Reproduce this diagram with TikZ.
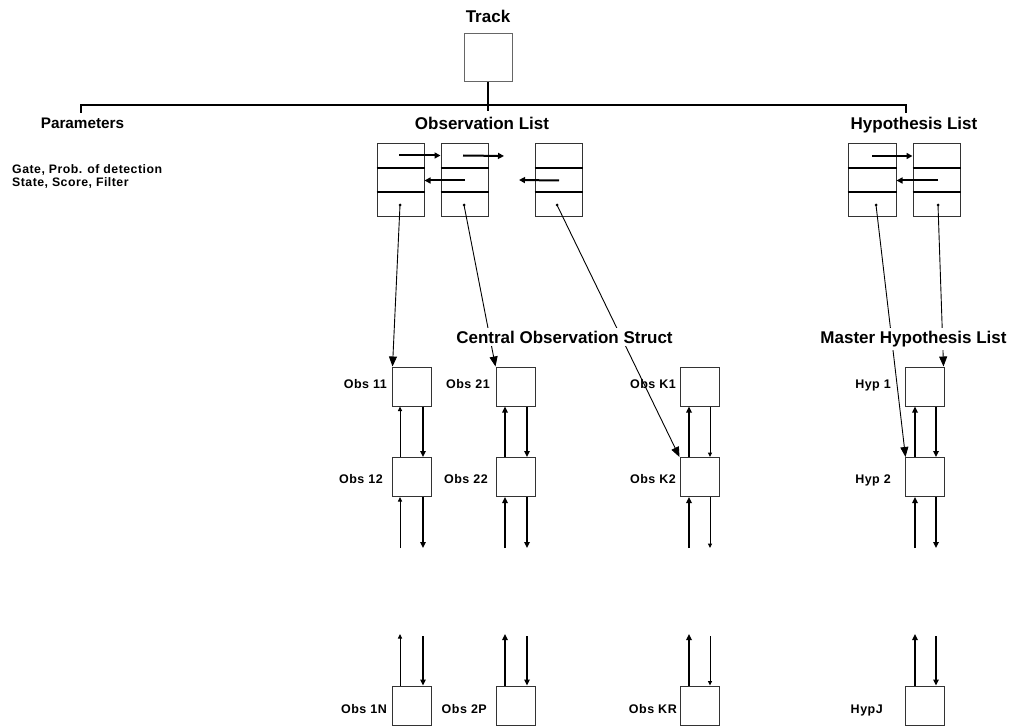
\documentclass[tikz,border=0pt]{standalone}
\usepackage{fontspec}
\setmainfont{Liberation Sans}
\newfontfamily\spaced[LetterSpace=4]{Liberation Sans}
\usetikzlibrary{arrows.meta,calc}

\begin{document}
\begin{tikzpicture}[x=1pt,y=-1pt,
  big/.style={font=\fontsize{17}{20}\selectfont\bfseries, inner sep=0pt},
  heading/.style={big, fill=white, inner sep=3pt},
  sm/.style={font=\spaced\fontsize{12.5}{14}\selectfont\bfseries, inner sep=0pt, anchor=base east},
  note/.style={font=\spaced\fontsize{12.3}{14}\selectfont\bfseries, inner sep=0pt, anchor=base west},
  tbox/.style={draw=black!60, line width=1pt, minimum width=48pt, minimum height=48pt, inner sep=0pt},
  lbox/.style={draw=black!80, line width=1pt, minimum width=47pt, minimum height=73pt, inner sep=0pt},
  obox/.style={draw=black!80, line width=1pt, minimum width=39pt, minimum height=39pt, inner sep=0pt},
  divider/.style={line width=2pt, black},
  bus/.style={line width=2pt, black},
  link/.style={line width=2pt, -{Triangle[length=6pt,width=6pt]}},
  dot/.style={circle, fill=black, inner sep=0pt, minimum size=3pt},
  longarrow/.style={line width=0.9pt, -{Triangle[length=10pt,width=8pt]}},
  chainarrow/.style={line width=#1, -{Triangle[length=3pt 1.5,width=2.5pt 1.5]}}]
\useasboundingbox (0,0) rectangle (1014,727);

% ---- track and the bus below it
\node[big, anchor=base] (tracklab) at (488,23) {Track};
\node[tbox] (track) at (488,58) {};
\coordinate (busL) at (81,113);
\coordinate (busR) at (906,113);
\coordinate (busJ) at (488,105);
\coordinate (busT) at (488,111);
\draw[bus] (busL) |- (busJ) -| (busR);
\draw[bus] (track.south) -- (busT);

% ---- top level headings
\node[font=\fontsize{15.3}{18}\selectfont\bfseries, inner sep=0pt, anchor=base] (params) at (82.5,129) {Parameters};
\node[big, anchor=base] (obslab) at (482,130) {Observation List};
\node[big, anchor=base] (hyplab) at (914,130) {Hypothesis List};
\node[note] (p1) at (12,174) {Gate, Prob. of detection};
\node[note] (p2) at (12,187) {State, Score, Filter};

% ---- observation list and hypothesis list records
\node[lbox] (ol1) at (400.5,180.5) {};
\node[lbox] (ol2) at (464.5,180.5) {};
\node[lbox] (ol3) at (558.5,180.5) {};
\node[lbox, minimum width=48pt] (hl1) at (872,180.5) {};
\node[lbox] (hl2) at (936.5,180.5) {};
\foreach \bx in {ol1,ol2,ol3,hl1,hl2} {
  \draw[divider] ($(\bx.north west)+(0,24.5)$) -- ($(\bx.north east)+(0,24.5)$);
  \draw[divider] ($(\bx.north west)+(0,49)$) -- ($(\bx.north east)+(0,49)$);
}

% next / previous pointers
\coordinate (gap1) at (504,156);
\coordinate (gap2) at (519,180);
\draw[link] ($(ol1.north)+(-1.5,12)$) -- ($(ol2.north west)+(0,12)$);
\draw[link] ($(ol2.north)+(-1.5,12)$) -- (gap1);
\draw[link] ($(ol2.center)+(0.5,0)$) -- (ol1.east);
\draw[link] ($(ol3.center)+(0.5,0)$) -- (gap2);
\draw[link] ($(hl1.north)+(0,12.5)$) -- ($(hl2.north west)+(0,12.5)$);
\draw[link] ($(hl2.center)+(1.5,0)$) -- (hl1.east);

% data pointers
\node[dot] (od1) at (400,205) {};
\node[dot] (od2) at (464,205) {};
\node[dot] (od3) at (557,205) {};
\node[dot] (hd1) at (876,205) {};
\node[dot] (hd2) at (938,205) {};

% ---- central observation structure and master hypothesis list
\foreach \col/\xc in {1/411.5, 2/515.5, K/699.5, H/924.5} {
  \node[obox] (c\col a) at (\xc,386.5) {};
  \node[obox] (c\col b) at (\xc,477) {};
  \node[obox] (c\col c) at (\xc,705.5) {};
}

\node[sm] (l11) at (387,388) {Obs 11};
\node[sm] (l12) at (383,483) {Obs 12};
\node[sm] (l1N) at (387,713) {Obs 1N};
\node[sm] (l21) at (490,388) {Obs 21};
\node[sm] (l22) at (488,483) {Obs 22};
\node[sm] (l2P) at (487,713) {Obs 2P};
\node[sm] (lK1) at (676,388) {Obs K1};
\node[sm] (lK2) at (676,483) {Obs K2};
\node[sm] (lKR) at (677,713) {Obs KR};
\node[sm] (lH1) at (891,388) {Hyp 1};
\node[sm] (lH2) at (891,483) {Hyp 2};
\node[sm] (lHJ) at (883,713) {HypJ};

% doubly linked chains: up pointer x, down pointer x, their line widths
\foreach \col/\upx/\dnx/\upw/\dnw in {1/400/423/1/2, 2/505/527/2/2,
                                       K/689/710/2/1, H/915/936/2/2} {
  \coordinate (xu\col) at (\upx,0);
  \coordinate (xd\col) at (\dnx,0);
  \coordinate (mu\col) at (\upx,548);
  \coordinate (md\col) at (\dnx,548);
  \coordinate (bu\col) at (\upx,634);
  \coordinate (bd\col) at (\dnx,636);
  \draw[chainarrow=\upw pt] (xu\col |- c\col b.north) -- (xu\col |- c\col a.south);
  \draw[chainarrow=\dnw pt] (xd\col |- c\col a.south) -- (xd\col |- c\col b.north);
  \draw[chainarrow=\upw pt] (mu\col) -- (xu\col |- c\col b.south);
  \draw[chainarrow=\dnw pt] (xd\col |- c\col b.south) -- (md\col);
  \draw[chainarrow=\upw pt] (xu\col |- c\col c.north) -- (bu\col);
  \draw[chainarrow=\dnw pt] (bd\col) -- (xd\col |- c\col c.north);
}

% list entries point into the shared structures
\draw[longarrow] (od1.center) -- ($(c1a.north west)+(1,0)$);
\draw[longarrow] (od2.center) -- (c2a.north west);
\draw[longarrow] (od3.center) -- (cKb.north west);
\draw[longarrow] (hd1.center) -- ($(cHb.north west)+(1,0)$);
\draw[longarrow] (hd2.center) -- ($(cHa.north east)+(-1,0)$);

\node[heading, anchor=base] (central) at (564.5,343) {Central Observation Struct};
\node[heading, anchor=base] (master) at (913.5,343) {Master Hypothesis List};
\end{tikzpicture}
\end{document}
